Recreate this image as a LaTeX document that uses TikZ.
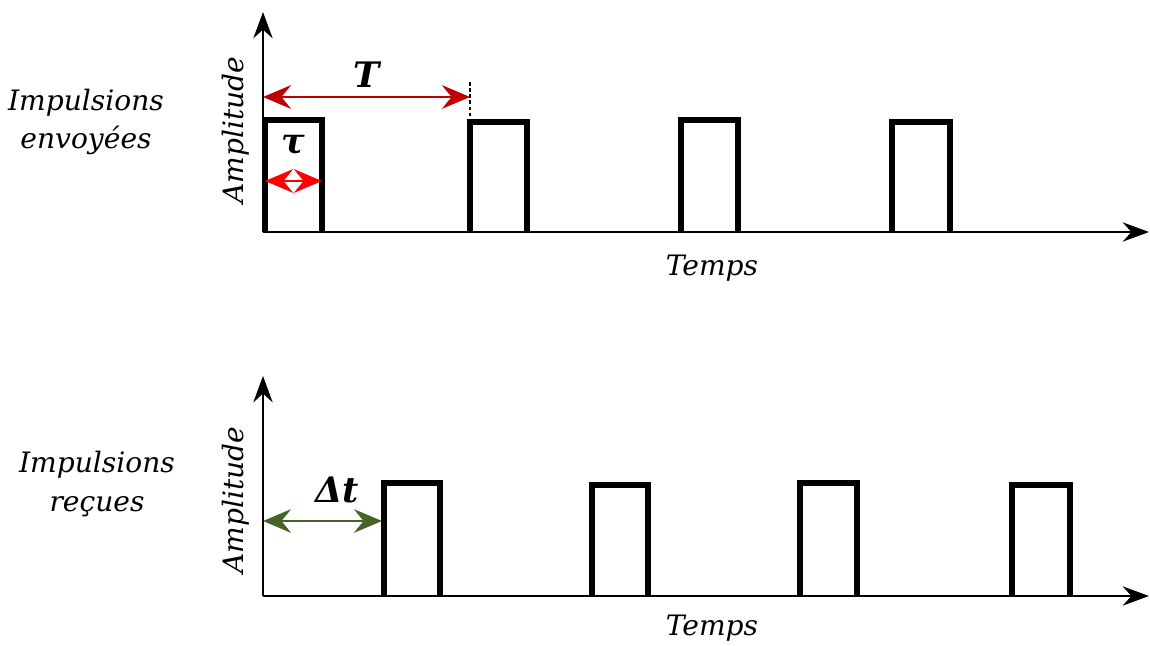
\documentclass[tikz,border=0pt]{standalone}
\usepackage{fontspec}
\setmainfont{DejaVu Serif}
\usetikzlibrary{arrows.meta}
\definecolor{darkred}{RGB}{192,0,0}
\definecolor{dgreen}{RGB}{70,100,40}
\tikzset{
  axis/.style={line width=1pt,-{Stealth[length=15pt,width=11pt,inset=5pt]}},
  pulse/.style={line width=2.9pt,line join=miter},
  lbl/.style={font=\itshape\fontsize{16}{22}\selectfont,inner sep=0pt},
  sym/.style={font=\bfseries\itshape\fontsize{20}{22}\selectfont,inner sep=0pt},
  dim/.style={line width=0.9pt,{Stealth[length=16pt,width=13.5pt,inset=5.5pt]}-{Stealth[length=16pt,width=13.5pt,inset=5.5pt]}}
}
\begin{document}
\begin{tikzpicture}[x=0.02cm,y=-0.02cm]
\useasboundingbox (0,0) rectangle (1150,646);
% top panel
\coordinate (o1) at (263,232);
\coordinate (y1) at (263,12);
\coordinate (x1) at (1149,232);
\draw[axis] (o1) -- (y1);
\draw[axis] (o1) -- (x1);
\draw[pulse] (265,232) -- (265,120) -- (322,120) -- (322,232);
\draw[pulse] (470,232) -- (470,122) -- (527,122) -- (527,232);
\draw[pulse] (681,232) -- (681,120) -- (738,120) -- (738,232);
\draw[pulse] (892,232) -- (892,122) -- (950,122) -- (950,232);
\coordinate (ta) at (263,97);
\coordinate (tb) at (470,97);
\coordinate (dtop) at (470,82);
\coordinate (dbot) at (470,120);
\draw[dashed,line width=0.6pt,dash pattern=on 2pt off 1.5pt] (dtop) -- (dbot);
\draw[dim,draw=darkred,fill=darkred] (ta) -- (tb);
\node[sym] (T) at (367,75) {T};
\coordinate (ua) at (265,181);
\coordinate (ub) at (322,181);
\draw[dim,draw=red,fill=red] (ua) -- (ub);
\node[sym] (tau) at (293,145) {τ};
\node[lbl,rotate=90] (amp1) at (236,130) {Amplitude};
\node[lbl] (temps1) at (712,268) {Temps};
\node[lbl,align=center] (imp1) at (86,122) {Impulsions\\envoyées};
% bottom panel
\coordinate (o2) at (263,596);
\coordinate (y2) at (263,376);
\coordinate (x2) at (1149,596);
\draw[axis] (o2) -- (y2);
\draw[axis] (o2) -- (x2);
\draw[pulse] (384,596) -- (384,483) -- (440,483) -- (440,596);
\draw[pulse] (592,596) -- (592,485) -- (648,485) -- (648,596);
\draw[pulse] (800,596) -- (800,483) -- (857,483) -- (857,596);
\draw[pulse] (1012,596) -- (1012,485) -- (1070,485) -- (1070,596);
\coordinate (da) at (263,521);
\coordinate (db) at (382,521);
\draw[dim,draw=dgreen,fill=dgreen] (da) -- (db);
\node[sym] (dt) at (337,490) {Δt};
\node[lbl,rotate=90] (amp2) at (236,500) {Amplitude};
\node[lbl] (temps2) at (712,628) {Temps};
\node[lbl,align=center] (imp2) at (97,484) {Impulsions\\reçues};
\end{tikzpicture}
\end{document}
